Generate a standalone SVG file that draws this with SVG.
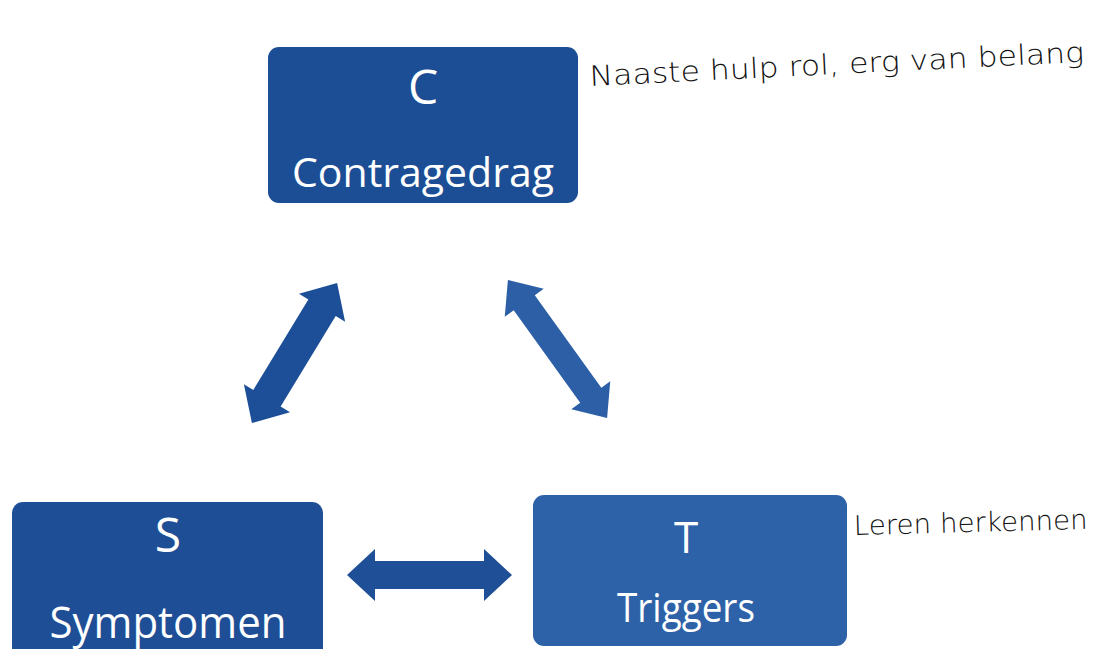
<svg xmlns="http://www.w3.org/2000/svg" width="1106" height="649" viewBox="0 0 1106 649">
  <style>
    .box { stroke: none; }
    .lbl { font-family: "Open Sans", "Liberation Sans", sans-serif; fill: #ffffff; text-anchor: middle; }
    .hand { font-family: "DejaVu Sans", "Liberation Sans", sans-serif; fill: #111111; font-weight: 300; }
  </style>
  <rect width="1106" height="649" fill="#ffffff"/>
  <g id="connectors">
    <path id="arrow-S-C" transform="translate(294.5,353) rotate(-58.7)" fill="#1d4f98"
      d="M -82 0 L -53 -27 L -53 -16 L 53 -16 L 53 -27 L 82 0 L 53 27 L 53 16 L -53 16 L -53 27 Z"/>
    <path id="arrow-C-T" transform="translate(557.5,349) rotate(54.3)" fill="#2c5fa6"
      d="M -85 0 L -57 -24 L -57 -13 L 57 -13 L 57 -24 L 85 0 L 57 24 L 57 13 L -57 13 L -57 24 Z"/>
    <path id="arrow-S-T" transform="translate(429.5,575)" fill="#1f4f96"
      d="M -82.5 0 L -54.5 -26 L -54.5 -14 L 54.5 -14 L 54.5 -26 L 82.5 0 L 54.5 26 L 54.5 14 L -54.5 14 L -54.5 26 Z"/>
  </g>
  <g id="node-C">
    <rect class="box" x="268" y="47" width="310" height="156" rx="11" fill="#1c4e95"/>
    <text class="lbl" x="423" y="104" font-size="48">C</text>
    <text class="lbl" x="423" y="187" font-size="40" textLength="262" lengthAdjust="spacingAndGlyphs">Contragedrag</text>
  </g>
  <g id="node-S">
    <rect class="box" x="12" y="502" width="311" height="160" rx="11" fill="#1d4e96"/>
    <text class="lbl" x="168" y="552" font-size="48">S</text>
    <text class="lbl" x="168" y="638" font-size="44" textLength="237" lengthAdjust="spacingAndGlyphs">Symptomen</text>
  </g>
  <g id="node-T">
    <rect class="box" x="533" y="495" width="314" height="151" rx="11" fill="#2e62a8"/>
    <text class="lbl" x="686" y="553" font-size="44">T</text>
    <text class="lbl" x="686" y="622" font-size="40" textLength="138" lengthAdjust="spacingAndGlyphs">Triggers</text>
  </g>
  <g id="note-C">
    <text class="hand" x="590" y="86" font-size="28" transform="rotate(-2.8 590 86)" textLength="495" lengthAdjust="spacingAndGlyphs">Naaste hulp rol, erg van belang</text>
  </g>
  <g id="note-T">
    <text class="hand" x="854" y="535" font-size="27" transform="rotate(-1.5 854 535)" textLength="234" lengthAdjust="spacingAndGlyphs">Leren herkennen</text>
  </g>
</svg>
